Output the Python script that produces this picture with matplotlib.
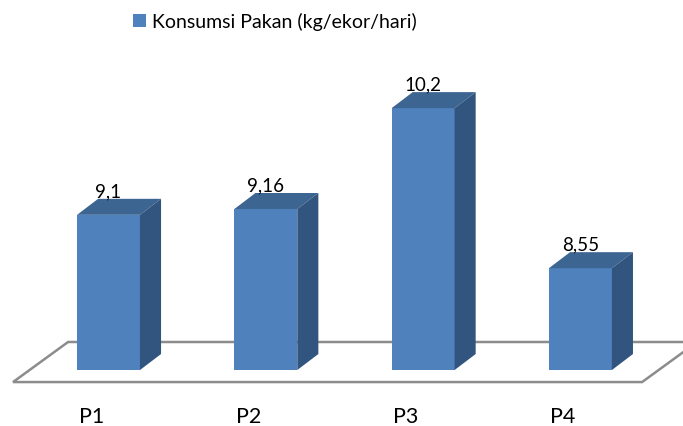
import numpy as np
import matplotlib.pyplot as plt
from matplotlib.patches import Polygon

# data
categories = ['P1', 'P2', 'P3', 'P4']
values = [9.1, 9.16, 10.2, 8.55]
value_labels = ['9,1', '9,16', '10,2', '8,55']
series_name = 'Konsumsi Pakan (kg/ekor/hari)'

plt.rcParams['font.family'] = ['Lato', 'DejaVu Sans']

# look
base = 7.5          # value axis starts here
w = 0.40            # bar width (category units)
ddx, ddy = 0.134, 0.165   # depth offset of bars
front = '#4f81bd'
top = '#3d6592'
side = '#32557f'
floor_col = '#8c8c8c'

fig = plt.figure(figsize=(6.83, 4.27), dpi=100)
ax = fig.add_axes([0, 0, 1, 1])
ax.set_xlim(-0.6898, 3.652)
ax.set_ylim(6.923, 11.325)
ax.axis('off')

# floor
fl, fr, fy = -0.607, 3.392, 7.376
fdx, fdy = 0.35, 0.413
floor = Polygon([(fl, fy), (fr, fy), (fr + fdx, fy + fdy), (fl + fdx, fy + fdy)],
                closed=True, facecolor='white', edgecolor=floor_col, lw=1.8, zorder=1)
ax.add_patch(floor)

x = np.arange(len(categories))
v = np.array(values)
bars = ax.bar(x, v - base, bottom=base, width=w, color=front, zorder=3,
              label=series_name)

for xi, vi, lab in zip(x, v, value_labels):
    l, r = xi - w / 2, xi + w / 2
    ax.add_patch(Polygon([(l, vi), (r, vi), (r + ddx, vi + ddy), (l + ddx, vi + ddy)],
                         closed=True, facecolor=top, edgecolor='none', zorder=3))
    ax.add_patch(Polygon([(r, base), (r + ddx, base + ddy), (r + ddx, vi + ddy), (r, vi)],
                         closed=True, facecolor=side, edgecolor='none', zorder=3))
    ax.text(xi, vi + ddy + 0.03, lab, ha='center', va='baseline', fontsize=13.5,
            color='black', zorder=4)

for xi, c in zip(x, categories):
    ax.text(xi - 0.11, 7.026, c, ha='center', va='center', fontsize=15.5, color='black')

fig.legend(handles=[bars], labels=[series_name], loc='center',
           bbox_to_anchor=(0.4026, 0.948), frameon=False, fontsize=14,
           handlelength=0.65, handleheight=0.65, handletextpad=0.3, borderpad=0)

fig.savefig('out.png', dpi=100)
